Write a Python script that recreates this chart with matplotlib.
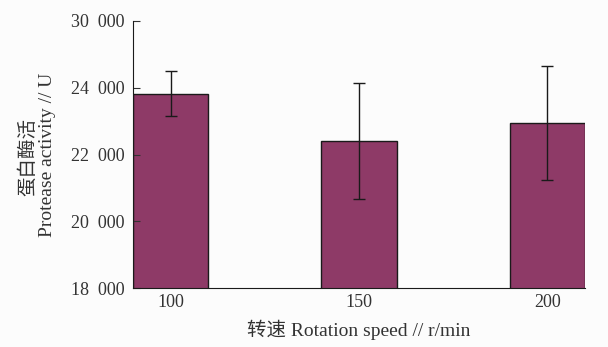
import matplotlib.pyplot as plt
import numpy as np

# Daten
speeds = ['100', '150', '200']
activity = [23820, 22410, 22950]
err = [680, 1740, 1710]
ytick_vals = [18000, 20000, 22000, 24000, 26000]
ytick_labels = ['18  000', '20  000', '22  000', '24  000', '30  000']

plt.rcParams['font.family'] = ['Liberation Serif', 'Noto Sans CJK SC']
plt.rcParams['font.size'] = 13

fig = plt.figure(figsize=(6.08, 3.47), dpi=100, facecolor='#fcfcfc')
ax = fig.add_axes([0.219, 0.170, 0.743, 0.7695])
ax.set_facecolor('#fcfcfc')

x = np.arange(len(speeds))
ax.bar(x, activity, width=0.4, color='#8e3a67', edgecolor='#1a1a1a', linewidth=1,
       yerr=err, capsize=4, error_kw=dict(ecolor='#1a1a1a', elinewidth=1, capthick=1))

ax.set_xlim(-0.2, 2.2)
ax.set_ylim(18000, 26000)
ax.set_yticks(ytick_vals)
ax.set_yticklabels(ytick_labels)
ax.set_xticks(x)
ax.set_xticklabels(speeds)

ax.spines['top'].set_visible(False)
ax.spines['right'].set_visible(False)
ax.spines['left'].set_color('#1a1a1a')
ax.spines['bottom'].set_color('#1a1a1a')
ax.tick_params(axis='y', direction='in', length=5, pad=6, colors='#333333')
ax.tick_params(axis='x', length=0, pad=4, colors='#333333')

# Achsenbeschriftungen
fig.text(28 / 608, 1 - 157 / 347, '蛋白酶活', rotation=90, ha='center', va='center',
         fontsize=14, color='#333333')
fig.text(48 / 608, 1 - 155 / 347, 'Protease activity // U', rotation=90, ha='center',
         va='center', fontsize=14, color='#333333')
fig.text(359 / 608, 1 - 330 / 347, '转速 Rotation speed // r/min', ha='center',
         va='center', fontsize=14, color='#333333')

plt.savefig('out.png', dpi=100, facecolor=fig.get_facecolor())
